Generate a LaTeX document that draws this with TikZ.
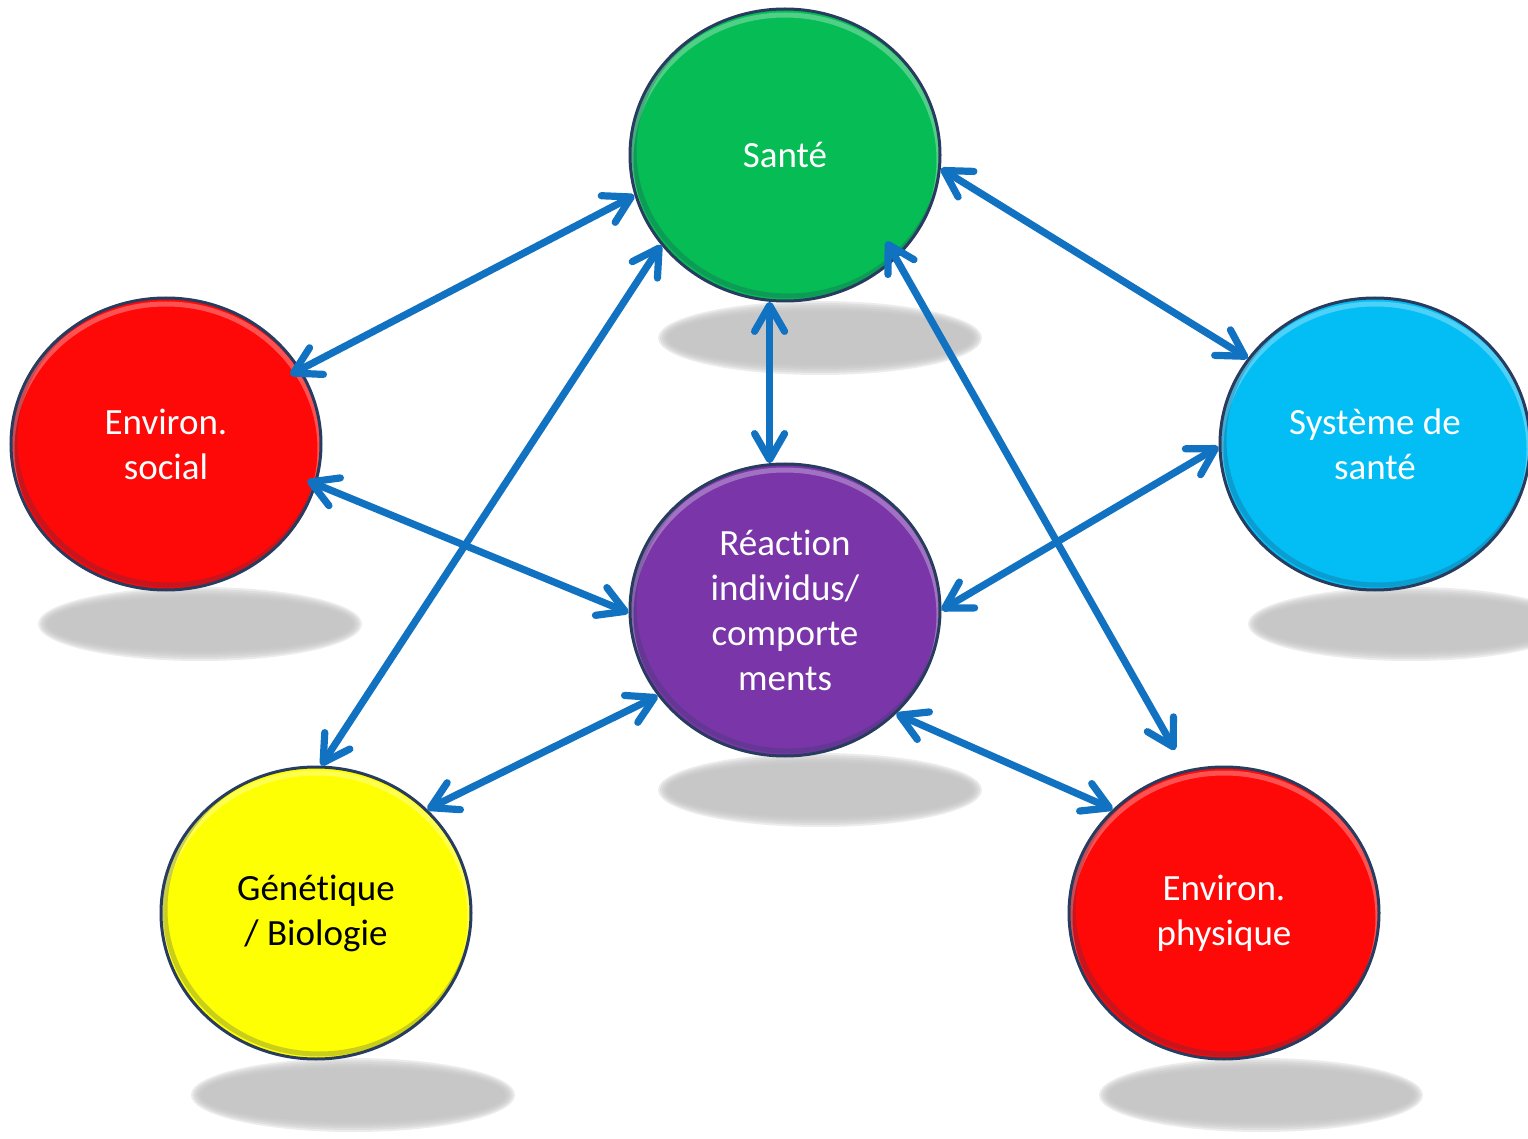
\documentclass[tikz,border=0pt]{standalone}
\usepackage{fontspec}
\setmainfont{Carlito}[Ligatures=NoCommon]
\usetikzlibrary{arrows.meta,shapes.geometric}
\newcommand\nolig{\kern0pt{}}
\definecolor{arrowblue}{RGB}{18,114,194}
\definecolor{rimcol}{RGB}{40,60,95}
\definecolor{sgreen}{RGB}{5,189,84}
\definecolor{sred}{RGB}{254,8,8}
\definecolor{scyan}{RGB}{2,190,245}
\definecolor{spurple}{RGB}{122,54,168}
\definecolor{syellow}{RGB}{255,255,4}
\begin{document}
\begin{tikzpicture}[x=0.5pt,y=-0.5pt,
  ball/.style={ellipse, minimum width=155pt, minimum height=146pt, inner sep=0pt,
    draw=rimcol, line width=1.5pt, text=white, align=center,
    font=\fontsize{18.5}{22.5}\selectfont,
    path picture={
      \draw[white, opacity=0.3, line width=2.5pt] ([yshift=-2.5pt]path picture bounding box.center) ellipse [x radius=77pt, y radius=72.5pt];
      \draw[rimcol, opacity=0.25, line width=2.5pt] ([yshift=2pt,xshift=1.5pt]path picture bounding box.center) ellipse [x radius=77pt, y radius=72.5pt];
    }},
  conn/.style={draw=arrowblue, line width=3.6pt,
    {Straight Barb[length=13pt,width=15pt,round]}-{Straight Barb[length=13pt,width=15pt,round]}},
  shadowlayer/.style={fill=black!25, opacity=0.3}]
\useasboundingbox (0,0) rectangle (1528,1139);
% shadows
\foreach \cx/\cy in {820/338, 200/624, 1410/624, 820/790, 353/1095, 1261/1095} {
  \foreach \r in {0,1,...,5} {
    \pgfmathsetmacro\rx{81-\r}
    \pgfmathsetmacro\ry{18.5-\r}
    \fill[shadowlayer] (\cx,\cy) ellipse [x radius=\rx pt, y radius=\ry pt];
  }
}
% nodes
\node[ball, fill=sgreen] (sante) at (785,155) {\raisebox{-2pt}{Santé}};
\node[ball, fill=sred] (social) at (166,444) {Environ.\\social};
\node[ball, fill=scyan] (systeme) at (1375,444) {Système de\\santé};
\node[ball, fill=spurple] (reaction) at (785,610) {Réact\nolig ion\\individus/\\comporte\\ments};
\node[ball, fill=syellow, text=black] (genetique) at (316,913) {Génét\nolig ique\\/ Biologie};
\node[ball, fill=sred] (physique) at (1224,913) {Environ.\\physique};
\coordinate (phystop) at (1175,750);
% connectors
\draw[conn, shorten >=-6pt] (sante.195) -- (social.29);
\draw[conn] (sante.355) -- (systeme.146);
\draw[conn] (sante.264) -- (reaction.96);
\draw[conn] (sante.216) -- (genetique.88);
\draw[conn, shorten <=-10pt] (sante.317) -- (phystop);
\draw[conn, shorten <=-5pt] (social.345) -- (reaction.181);
\draw[conn] (systeme.181) -- (reaction.0);
\draw[conn] (genetique.43) -- (reaction.214);
\draw[conn] (reaction.317) -- (physique.137);
\end{tikzpicture}
\end{document}
